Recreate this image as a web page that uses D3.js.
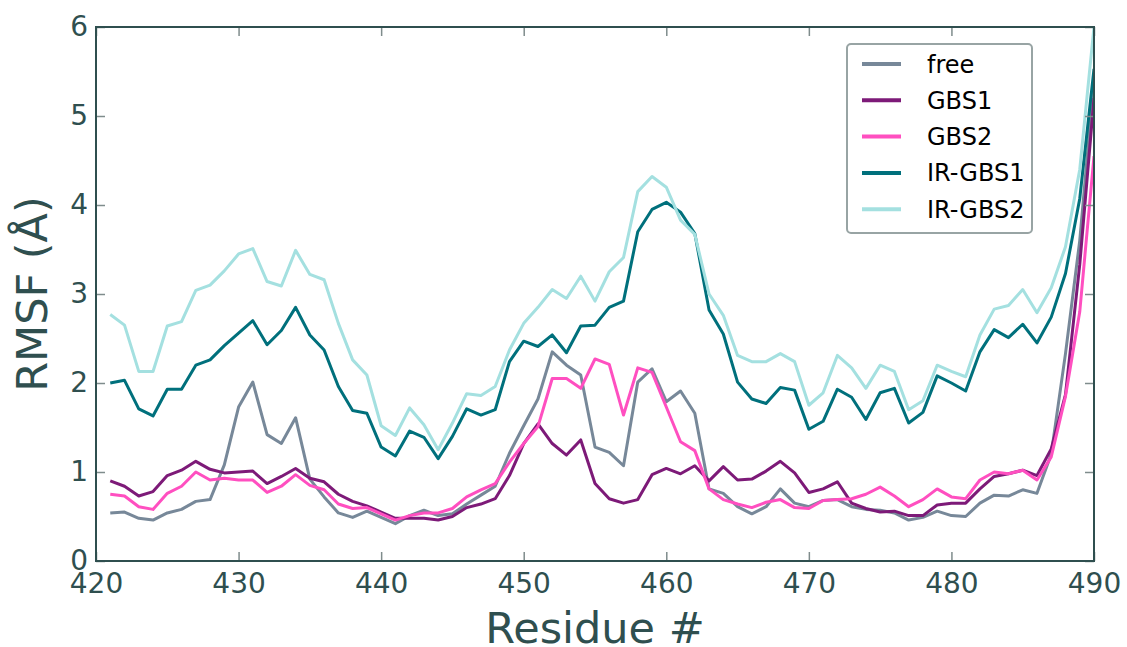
<!DOCTYPE html>
<html>
<head>
<meta charset="utf-8">
<script src="https://cdn.jsdelivr.net/npm/d3@7"></script>
<style>
  html, body { margin: 0; padding: 0; background: #fff; }
  svg { display: block; font-family: "DejaVu Sans", sans-serif; }
</style>
</head>
<body>
<div id="chart"></div>
<script>
// residues 421..490
const residues = d3.range(421, 491);

const free = [0.54, 0.55, 0.48, 0.46, 0.54, 0.58, 0.67, 0.69, 1.08, 1.73,
  2.01, 1.42, 1.32, 1.61, 0.92, 0.72, 0.54, 0.49, 0.56, 0.49,
  0.42, 0.51, 0.57, 0.51, 0.53, 0.64, 0.74, 0.84, 1.21, 1.52,
  1.82, 2.35, 2.20, 2.09, 1.28, 1.22, 1.07, 2.01, 2.16, 1.79,
  1.91, 1.66, 0.81, 0.76, 0.61, 0.53, 0.61, 0.81, 0.65, 0.61,
  0.68, 0.69, 0.61, 0.58, 0.57, 0.54, 0.46, 0.49, 0.56, 0.51,
  0.50, 0.65, 0.74, 0.73, 0.80, 0.76, 1.20, 2.33, 3.60, 5.40];

const gbs1 = [0.90, 0.84, 0.73, 0.78, 0.96, 1.02, 1.12, 1.03, 0.99, 1.00,
  1.01, 0.87, 0.95, 1.04, 0.93, 0.89, 0.75, 0.67, 0.62, 0.55,
  0.48, 0.48, 0.48, 0.46, 0.50, 0.60, 0.64, 0.70, 0.96, 1.32,
  1.54, 1.32, 1.19, 1.36, 0.87, 0.70, 0.65, 0.69, 0.97, 1.04,
  0.98, 1.07, 0.90, 1.06, 0.91, 0.92, 1.01, 1.12, 0.99, 0.77,
  0.81, 0.89, 0.65, 0.59, 0.55, 0.56, 0.51, 0.51, 0.63, 0.65,
  0.65, 0.81, 0.95, 0.98, 1.02, 0.96, 1.26, 1.87, 3.33, 5.20];

const gbs2 = [0.75, 0.73, 0.61, 0.58, 0.76, 0.84, 1.00, 0.91, 0.93, 0.91,
  0.91, 0.77, 0.84, 0.97, 0.85, 0.80, 0.64, 0.59, 0.60, 0.53,
  0.46, 0.51, 0.54, 0.54, 0.59, 0.72, 0.80, 0.87, 1.11, 1.32,
  1.51, 2.05, 2.05, 1.94, 2.27, 2.21, 1.64, 2.17, 2.12, 1.73,
  1.34, 1.24, 0.81, 0.69, 0.64, 0.60, 0.66, 0.69, 0.60, 0.59,
  0.68, 0.69, 0.70, 0.75, 0.83, 0.73, 0.61, 0.69, 0.81, 0.72,
  0.70, 0.91, 1.00, 0.98, 1.02, 0.91, 1.17, 1.85, 2.80, 4.55];

const irGbs1 = [2.00, 2.03, 1.71, 1.63, 1.93, 1.93, 2.20, 2.26, 2.42, 2.56,
  2.70, 2.43, 2.59, 2.85, 2.54, 2.37, 1.96, 1.69, 1.66, 1.28,
  1.18, 1.46, 1.39, 1.15, 1.40, 1.71, 1.64, 1.70, 2.24, 2.47,
  2.41, 2.54, 2.34, 2.64, 2.65, 2.85, 2.92, 3.70, 3.95, 4.03,
  3.92, 3.68, 2.82, 2.55, 2.01, 1.82, 1.77, 1.95, 1.92, 1.48,
  1.57, 1.93, 1.84, 1.59, 1.89, 1.94, 1.55, 1.67, 2.08, 2.00,
  1.91, 2.35, 2.60, 2.51, 2.66, 2.45, 2.74, 3.23, 4.07, 5.53];

const irGbs2 = [2.77, 2.65, 2.13, 2.13, 2.64, 2.69, 3.04, 3.10, 3.26, 3.45,
  3.51, 3.14, 3.09, 3.49, 3.22, 3.16, 2.67, 2.26, 2.09, 1.52,
  1.41, 1.72, 1.53, 1.25, 1.55, 1.88, 1.86, 1.96, 2.37, 2.67,
  2.85, 3.05, 2.95, 3.20, 2.92, 3.25, 3.41, 4.15, 4.32, 4.20,
  3.83, 3.67, 3.00, 2.76, 2.31, 2.24, 2.24, 2.33, 2.24, 1.75,
  1.89, 2.31, 2.17, 1.94, 2.20, 2.13, 1.70, 1.80, 2.20, 2.13,
  2.07, 2.54, 2.83, 2.87, 3.05, 2.79, 3.07, 3.53, 4.40, 6.00];

const seriesNames  = ['free', 'GBS1', 'GBS2', 'IR-GBS1', 'IR-GBS2'];
const seriesValues = [free, gbs1, gbs2, irGbs1, irGbs2];
const seriesColors = ['#778899', '#7d1a78', '#ff4fc0', '#00707c', '#a4e0e0'];

const xTicks = [420, 430, 440, 450, 460, 470, 480, 490];
const yTicks = [0, 1, 2, 3, 4, 5, 6];

const W = 1127, H = 647;
const margin = { left: 96, right: 33, top: 27, bottom: 86 };
const ink = '#2f4f4f';

const svg = d3.select('#chart').append('svg')
  .attr('width', W).attr('height', H);

const x = d3.scaleLinear().domain([420, 490]).range([margin.left, W - margin.right]);
const y = d3.scaleLinear().domain([0, 6]).range([H - margin.bottom, margin.top]);

svg.append('clipPath').attr('id', 'plot-clip')
  .append('rect')
  .attr('x', x(420)).attr('y', y(6) - 2)
  .attr('width', x(490) - x(420)).attr('height', y(0) - y(6) + 2);

// lines
const line = d3.line()
  .x((d, i) => x(residues[i]))
  .y(d => y(d));

const linesG = svg.append('g').attr('clip-path', 'url(#plot-clip)');
seriesValues.forEach((vals, k) => {
  linesG.append('path')
    .datum(vals)
    .attr('fill', 'none')
    .attr('stroke', seriesColors[k])
    .attr('stroke-width', 3)
    .attr('stroke-linejoin', 'round')
    .attr('d', line);
});

// axes, ticks pointing inward on all four sides
function styleAxis(g) {
  g.select('.domain').remove();
  g.selectAll('.tick line').attr('stroke', '#7f8c8c').attr('stroke-width', 1.5);
  g.selectAll('.tick text').attr('fill', ink).style('font-size', '28px')
    .style('font-family', '"DejaVu Sans", sans-serif');
}

svg.append('g')
  .attr('transform', `translate(0,${y(0)})`)
  .call(d3.axisBottom(x).tickValues(xTicks).tickSize(-9).tickPadding(12).tickFormat(d3.format('d')))
  .call(styleAxis);

svg.append('g')
  .attr('transform', `translate(0,${y(6)})`)
  .call(d3.axisTop(x).tickValues(xTicks).tickSize(-9).tickFormat(''))
  .call(styleAxis);

svg.append('g')
  .attr('transform', `translate(${x(420)},0)`)
  .call(d3.axisLeft(y).tickValues(yTicks).tickSize(-9).tickPadding(8).tickFormat(d3.format('d')))
  .call(styleAxis);

svg.append('g')
  .attr('transform', `translate(${x(490)},0)`)
  .call(d3.axisRight(y).tickValues(yTicks).tickSize(-9).tickFormat(''))
  .call(styleAxis);

// frame
svg.append('rect')
  .attr('x', x(420)).attr('y', y(6))
  .attr('width', x(490) - x(420)).attr('height', y(0) - y(6))
  .attr('fill', 'none')
  .attr('stroke', ink)
  .attr('stroke-width', 2);

// axis titles
svg.append('text')
  .attr('x', (x(420) + x(490)) / 2).attr('y', 643)
  .attr('text-anchor', 'middle')
  .attr('fill', ink)
  .style('font-size', '43px')
  .text('Residue #');

svg.append('text')
  .attr('transform', `translate(47,${(y(0) + y(6)) / 2}) rotate(-90)`)
  .attr('text-anchor', 'middle')
  .attr('fill', ink)
  .style('font-size', '43px')
  .text('RMSF (Å)');

// legend
const legend = svg.append('g').attr('transform', 'translate(847,44)');
legend.append('rect')
  .attr('width', 185).attr('height', 189)
  .attr('rx', 4).attr('ry', 4)
  .attr('fill', '#fff')
  .attr('stroke', '#98a4a4')
  .attr('stroke-width', 2);

seriesNames.forEach((name, k) => {
  const ly = 20 + k * 36.3;
  legend.append('line')
    .attr('x1', 15).attr('x2', 54)
    .attr('y1', ly).attr('y2', ly)
    .attr('stroke', seriesColors[k])
    .attr('stroke-width', 4);
  legend.append('text')
    .attr('x', 80).attr('y', ly + 8.5)
    .attr('fill', '#000')
    .style('font-size', '24px')
    .text(name);
});
</script>
</body>
</html>
